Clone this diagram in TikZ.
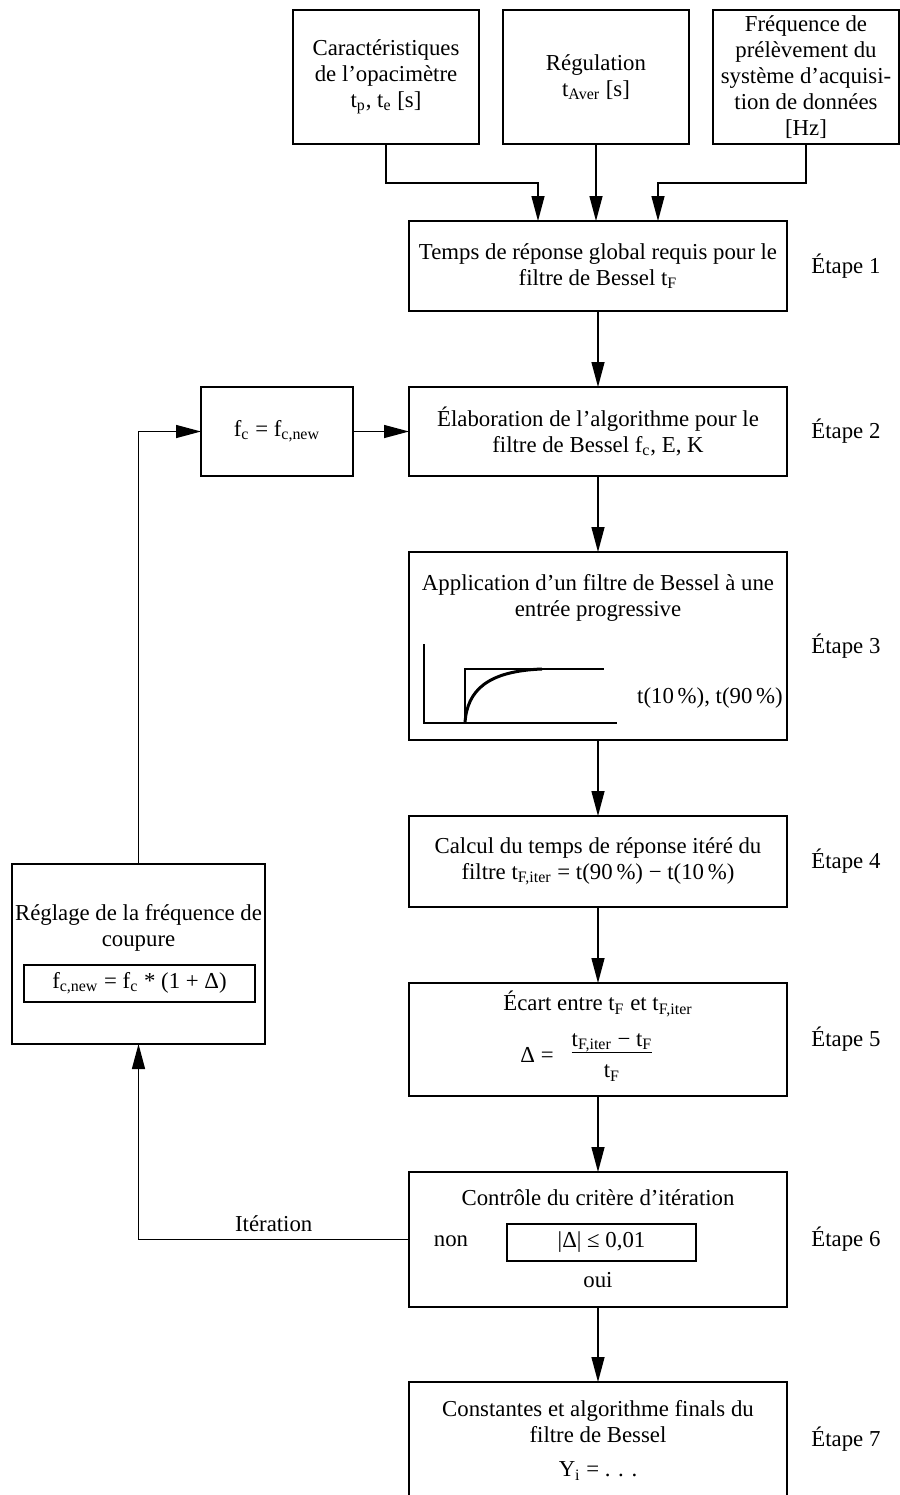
\documentclass[tikz,border=0pt]{standalone}
\usepackage{amsmath}
\usepackage{fontspec}
\setmainfont{Liberation Serif}
\usetikzlibrary{positioning,arrows.meta,calc}
\newcommand{\boxfont}{\fontsize{11.4}{13}\selectfont}

\begin{document}
\begin{tikzpicture}[x=0.5pt, y=-0.5pt,
    box/.style={draw, line width=0.9pt, align=center, font=\boxfont, inner sep=2pt, outer sep=0pt},
    stepbox/.style={box, minimum width=189pt},
    topbox/.style={box, minimum width=93pt, minimum height=67pt},
    inbox/.style={box, minimum height=18.5pt, line width=0.8pt},
    txt/.style={align=center, font=\boxfont, inner sep=0pt},
    etape/.style={font=\boxfont, inner sep=0pt},
    arr/.style={line width=0.7pt, -{Triangle[length=12.5pt, width=6.5pt]}}]
  \useasboundingbox (0,0) rectangle (900,1495);

  % main chain of steps
  \node[stepbox, minimum height=45pt] (s1) at (598,266) {Temps de réponse global requis pour le\\filtre de Bessel t\textsubscript{F}};
  \node[stepbox, minimum height=44.5pt] (s2) [below=38pt of s1] {Élaboration de l’algorithme pour le\\filtre de Bessel f\textsubscript{c}, E, K};
  \node[stepbox, minimum height=94pt] (s3) [below=38pt of s2] {};
  \node[stepbox, minimum height=45.5pt] (s4) [below=38pt of s3] {Calcul du temps de réponse itéré du\\filtre t\textsubscript{F,iter} = t(90\,\%) − t(10\,\%)};
  \node[stepbox, minimum height=56.5pt] (s5) [below=38pt of s4] {};
  \node[stepbox, minimum height=67.5pt] (s6) [below=38pt of s5] {};
  \node[stepbox, minimum height=62pt] (s7) [below=37.5pt of s6] {};

  % inputs
  \node[topbox] (reg) [above=38.5pt of s1, xshift=-1pt] {Régulation\\t\textsubscript{Aver} [s]};
  \node[topbox] (opa) [left=12pt of reg] {Caractéristiques\\de l’opacimètre\\t\textsubscript{p}, t\textsubscript{e} [s]};
  \node[topbox] (acq) [right=12pt of reg] {Fréquence de\\prélèvement du\\système d’acquisi-\\tion de données\\{}[Hz]};

  % loop boxes
  \node[box, minimum width=76pt, minimum height=44.5pt] (fc) [left=28pt of s2] {f\textsubscript{c} = f\textsubscript{c,new}};
  \node[box, minimum width=126.5pt, minimum height=90pt] (adj) at (138.5,954) {};
  \node[txt] (adjt) at (138.5,928) {Réglage de la fréquence de\\coupure};
  \node[inbox, minimum width=115.5pt] (fnew) at (139.5,983.5) {f\textsubscript{c,new} = f\textsubscript{c} * (1 + Δ)};

  % contents of steps 3, 5, 6, 7
  \node[txt] (s3t) at ($(s3.north)+(0,46)$) {Application d’un filtre de Bessel à une\\entrée progressive};
  \draw[line width=0.75pt] (424,644) -- (424,723) -- (617,723);
  \draw[line width=1pt] (465,723) -- (465,669) -- (604,669);
  \draw[line width=1.5pt] (465,723) .. controls (467,690) and (488,671) .. (542,669);
  \node[txt] (s3r) at (710,698) {t(10\,\%), t(90\,\%)};

  \node[txt] (s5t) at ($(s5.north)+(0,21)$) {Écart entre t\textsubscript{F} et t\textsubscript{F,iter}};
  \node[txt] (s5d) at (537,1055) {Δ =};
  \node[txt] (s5f) at (612,1057) {\setlength{\arrayrulewidth}{0.7pt}%
    \begin{tabular}{@{}c@{}}t\textsubscript{F,iter} − t\textsubscript{F}\\[-1.4pt]\hline\rule{0pt}{12.5pt}t\textsubscript{F}\end{tabular}};

  \node[txt] (s6t) at ($(s6.north)+(0,26)$) {Contrôle du critère d’itération};
  \node[inbox, minimum width=94.5pt] (crit) at (601.5,1242.5) {|Δ| ≤ 0,01};
  \node[txt] (non) at (451,1241) {non};
  \node[txt] (oui) at ($(s6.north)+(0,108)$) {oui};

  \node[txt] (s7t) at ($(s7.north)+(0,40)$) {Constantes et algorithme finals du\\filtre de Bessel};
  \node[txt] (s7y) at ($(s7.north)+(0,89)$) {Y\textsubscript{i} = . . .};

  % step labels
  \foreach \i in {1,...,6}
    \node[etape, right=12pt of s\i] (e\i) {Étape \i};
  \node[etape, right=12pt of s7, yshift=2.5pt] (e7) {Étape 7};

  % connectors
  \coordinate (jl) at ($(s1.north)+(-60,-38)$);
  \coordinate (jr) at ($(s1.north)+(60,-38)$);
  \draw[arr] (opa.south) |- (jl) -- (jl |- s1.north);
  \draw[arr] (acq.south) |- (jr) -- (jr |- s1.north);
  \draw[arr] (reg.south) -- (reg.south |- s1.north);

  \path[arr]
    (s1) edge (s2)
    (s2) edge (s3)
    (s3) edge (s4)
    (s4) edge (s5)
    (s5) edge (s6)
    (s6) edge (s7)
    (fc) edge (s2)
  ;
  \draw[arr] (s6.west) -| node[pos=0.25, above, font=\boxfont] {Itération} (adj.south);
  \draw[arr] (adj.north) |- (fc.west);
\end{tikzpicture}
\end{document}
